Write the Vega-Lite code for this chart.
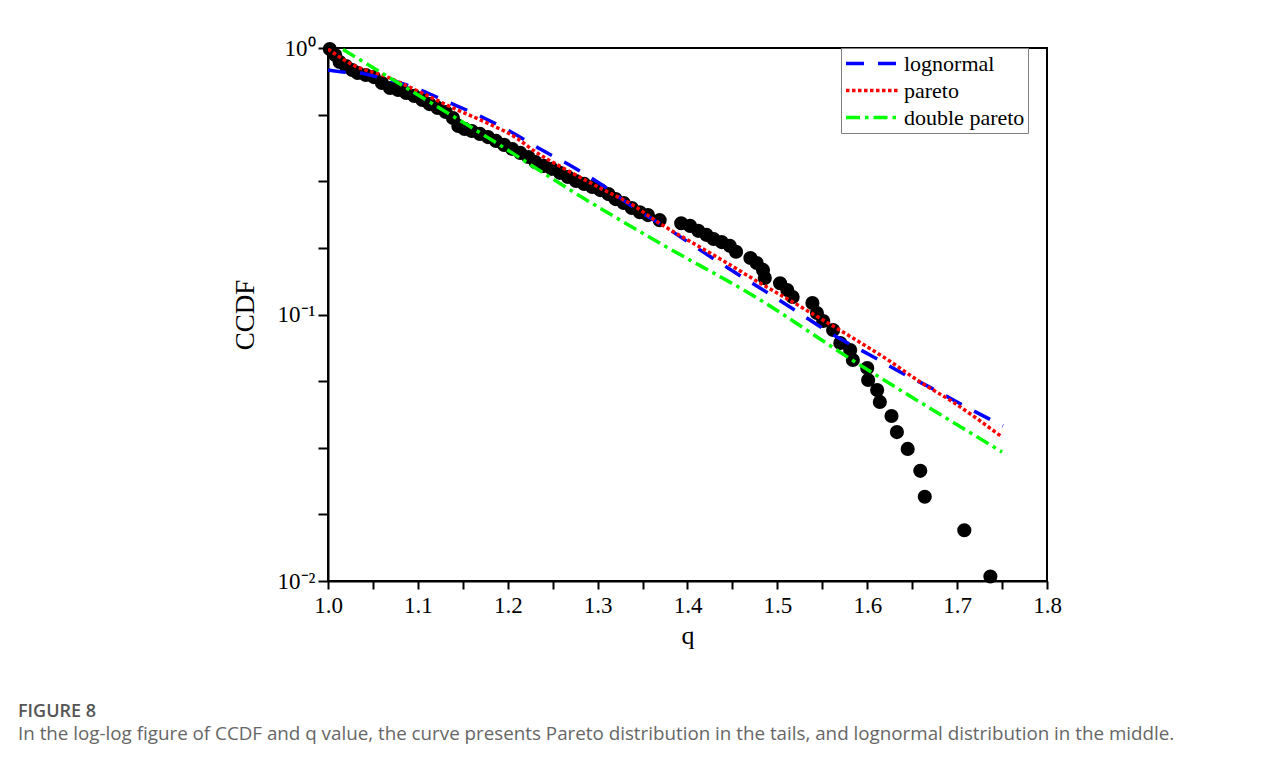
{
  "$schema": "https://vega.github.io/schema/vega-lite/v6.json",
  "width": 719,
  "height": 533,
  "autosize": {"type": "none"},
  "padding": {"left": 328, "top": 48, "right": 240, "bottom": 177},
  "background": "white",
  "config": {
    "view": {"stroke": "black", "strokeWidth": 2},
    "font": "Liberation Serif"
  },
  "title": {
    "text": "FIGURE 8",
    "subtitle": "In the log-log figure of CCDF and q value, the curve presents Pareto distribution in the tails, and lognormal distribution in the middle.",
    "orient": "bottom",
    "anchor": "start",
    "frame": "group",
    "dx": -310,
    "offset": 55,
    "font": "Open Sans",
    "fontSize": 18,
    "fontWeight": 600,
    "color": "#555555",
    "subtitleFont": "Open Sans",
    "subtitleFontSize": 18.8,
    "subtitleColor": "#666666",
    "subtitlePadding": 4
  },
  "datasets": {
    "points": [
      {"q": 1.002, "ccdf": 0.991}, {"q": 1.008, "ccdf": 0.941}, {"q": 1.013, "ccdf": 0.886},
      {"q": 1.020, "ccdf": 0.856}, {"q": 1.027, "ccdf": 0.827}, {"q": 1.033, "ccdf": 0.806},
      {"q": 1.042, "ccdf": 0.792}, {"q": 1.051, "ccdf": 0.778}, {"q": 1.060, "ccdf": 0.739},
      {"q": 1.069, "ccdf": 0.708}, {"q": 1.078, "ccdf": 0.696}, {"q": 1.087, "ccdf": 0.678},
      {"q": 1.096, "ccdf": 0.661}, {"q": 1.105, "ccdf": 0.638}, {"q": 1.113, "ccdf": 0.616},
      {"q": 1.122, "ccdf": 0.596}, {"q": 1.131, "ccdf": 0.575}, {"q": 1.139, "ccdf": 0.546},
      {"q": 1.145, "ccdf": 0.510}, {"q": 1.152, "ccdf": 0.497}, {"q": 1.160, "ccdf": 0.488},
      {"q": 1.169, "ccdf": 0.476}, {"q": 1.178, "ccdf": 0.463}, {"q": 1.187, "ccdf": 0.448},
      {"q": 1.196, "ccdf": 0.433}, {"q": 1.205, "ccdf": 0.418}, {"q": 1.214, "ccdf": 0.404},
      {"q": 1.223, "ccdf": 0.390}, {"q": 1.231, "ccdf": 0.373}, {"q": 1.240, "ccdf": 0.361},
      {"q": 1.249, "ccdf": 0.352}, {"q": 1.258, "ccdf": 0.340}, {"q": 1.267, "ccdf": 0.328},
      {"q": 1.276, "ccdf": 0.317}, {"q": 1.285, "ccdf": 0.309}, {"q": 1.294, "ccdf": 0.301},
      {"q": 1.303, "ccdf": 0.293}, {"q": 1.312, "ccdf": 0.283}, {"q": 1.320, "ccdf": 0.271},
      {"q": 1.329, "ccdf": 0.262}, {"q": 1.338, "ccdf": 0.251}, {"q": 1.347, "ccdf": 0.242},
      {"q": 1.356, "ccdf": 0.236}, {"q": 1.369, "ccdf": 0.226}, {"q": 1.393, "ccdf": 0.220},
      {"q": 1.403, "ccdf": 0.215}, {"q": 1.412, "ccdf": 0.206}, {"q": 1.421, "ccdf": 0.199},
      {"q": 1.429, "ccdf": 0.192}, {"q": 1.438, "ccdf": 0.187}, {"q": 1.447, "ccdf": 0.181},
      {"q": 1.454, "ccdf": 0.172}, {"q": 1.470, "ccdf": 0.163}, {"q": 1.477, "ccdf": 0.156},
      {"q": 1.484, "ccdf": 0.147}, {"q": 1.486, "ccdf": 0.137}, {"q": 1.503, "ccdf": 0.131},
      {"q": 1.511, "ccdf": 0.1236}, {"q": 1.517, "ccdf": 0.1163}, {"q": 1.539, "ccdf": 0.1104},
      {"q": 1.544, "ccdf": 0.1013}, {"q": 1.551, "ccdf": 0.0945}, {"q": 1.562, "ccdf": 0.0875},
      {"q": 1.570, "ccdf": 0.0782}, {"q": 1.581, "ccdf": 0.0736}, {"q": 1.584, "ccdf": 0.0675},
      {"q": 1.600, "ccdf": 0.0630}, {"q": 1.601, "ccdf": 0.0568}, {"q": 1.611, "ccdf": 0.0521},
      {"q": 1.614, "ccdf": 0.0470}, {"q": 1.627, "ccdf": 0.0416}, {"q": 1.633, "ccdf": 0.0362},
      {"q": 1.645, "ccdf": 0.0313}, {"q": 1.659, "ccdf": 0.0259}, {"q": 1.664, "ccdf": 0.0207},
      {"q": 1.708, "ccdf": 0.0155}, {"q": 1.737, "ccdf": 0.0104}
    ],
    "fits": [
      {"model": "lognormal", "q": 1.000, "ccdf": 0.827}, {"model": "lognormal", "q": 1.0167, "ccdf": 0.813},
      {"model": "lognormal", "q": 1.0356, "ccdf": 0.806}, {"model": "lognormal", "q": 1.0556, "ccdf": 0.778},
      {"model": "lognormal", "q": 1.0768, "ccdf": 0.746}, {"model": "lognormal", "q": 1.0968, "ccdf": 0.708},
      {"model": "lognormal", "q": 1.1335, "ccdf": 0.627}, {"model": "lognormal", "q": 1.1713, "ccdf": 0.551},
      {"model": "lognormal", "q": 1.2058, "ccdf": 0.480}, {"model": "lognormal", "q": 1.2381, "ccdf": 0.414},
      {"model": "lognormal", "q": 1.2726, "ccdf": 0.358}, {"model": "lognormal", "q": 1.3082, "ccdf": 0.301},
      {"model": "lognormal", "q": 1.3393, "ccdf": 0.253}, {"model": "lognormal", "q": 1.3772, "ccdf": 0.211},
      {"model": "lognormal", "q": 1.4106, "ccdf": 0.1777}, {"model": "lognormal", "q": 1.4451, "ccdf": 0.1494},
      {"model": "lognormal", "q": 1.4807, "ccdf": 0.1257}, {"model": "lognormal", "q": 1.514, "ccdf": 0.1067},
      {"model": "lognormal", "q": 1.5663, "ccdf": 0.0823}, {"model": "lognormal", "q": 1.603, "ccdf": 0.0705},
      {"model": "lognormal", "q": 1.6387, "ccdf": 0.0603}, {"model": "lognormal", "q": 1.6754, "ccdf": 0.0521},
      {"model": "lognormal", "q": 1.7121, "ccdf": 0.0446}, {"model": "lognormal", "q": 1.751, "ccdf": 0.0382},
      {"model": "pareto", "q": 1.000, "ccdf": 0.991}, {"model": "pareto", "q": 1.028, "ccdf": 0.863},
      {"model": "pareto", "q": 1.066, "ccdf": 0.778}, {"model": "pareto", "q": 1.102, "ccdf": 0.684},
      {"model": "pareto", "q": 1.139, "ccdf": 0.596}, {"model": "pareto", "q": 1.177, "ccdf": 0.523},
      {"model": "pareto", "q": 1.210, "ccdf": 0.459}, {"model": "pareto", "q": 1.228, "ccdf": 0.414},
      {"model": "pareto", "q": 1.266, "ccdf": 0.348}, {"model": "pareto", "q": 1.303, "ccdf": 0.298},
      {"model": "pareto", "q": 1.339, "ccdf": 0.2575}, {"model": "pareto", "q": 1.369, "ccdf": 0.220},
      {"model": "pareto", "q": 1.406, "ccdf": 0.1855}, {"model": "pareto", "q": 1.444, "ccdf": 0.156},
      {"model": "pareto", "q": 1.481, "ccdf": 0.131}, {"model": "pareto", "q": 1.517, "ccdf": 0.1114},
      {"model": "pareto", "q": 1.547, "ccdf": 0.0970}, {"model": "pareto", "q": 1.584, "ccdf": 0.0816},
      {"model": "pareto", "q": 1.622, "ccdf": 0.0679}, {"model": "pareto", "q": 1.659, "ccdf": 0.0558},
      {"model": "pareto", "q": 1.695, "ccdf": 0.0470}, {"model": "pareto", "q": 1.750, "ccdf": 0.0347},
      {"model": "double pareto", "q": 1.0167, "ccdf": 0.987}, {"model": "double pareto", "q": 1.091, "ccdf": 0.696},
      {"model": "double pareto", "q": 1.177, "ccdf": 0.463}, {"model": "double pareto", "q": 1.284, "ccdf": 0.2736},
      {"model": "double pareto", "q": 1.369, "ccdf": 0.1855}, {"model": "double pareto", "q": 1.481, "ccdf": 0.1134},
      {"model": "double pareto", "q": 1.584, "ccdf": 0.0672}, {"model": "double pareto", "q": 1.695, "ccdf": 0.0395},
      {"model": "double pareto", "q": 1.750, "ccdf": 0.0305}
    ]
  },
  "layer": [
    {
      "data": {"name": "points"},
      "mark": {"type": "circle", "size": 200, "color": "black", "opacity": 1},
      "encoding": {
        "x": {
          "field": "q", "type": "quantitative",
          "scale": {"domain": [1, 1.8], "nice": false, "zero": false},
          "axis": {
            "values": [1, 1.05, 1.1, 1.15, 1.2, 1.25, 1.3, 1.35, 1.4, 1.45, 1.5, 1.55, 1.6, 1.65, 1.7, 1.75, 1.8],
            "labelExpr": "abs(datum.value*10 - round(datum.value*10)) < 0.01 ? format(datum.value, '.1f') : ''",
            "grid": false,
            "domainColor": "black", "domainWidth": 2,
            "tickColor": "black", "tickWidth": 2, "tickSize": 8,
            "labelFont": "Liberation Serif", "labelFontSize": 23, "labelColor": "black", "labelPadding": 5,
            "labelFlush": false, "labelOverlap": false,
            "title": "q", "titleFont": "Liberation Serif", "titleFontSize": 26, "titleFontWeight": "normal",
            "titleColor": "black", "titlePadding": 5
          }
        },
        "y": {
          "field": "ccdf", "type": "quantitative",
          "scale": {"type": "log", "domain": [0.01, 1], "nice": false},
          "axis": {
            "values": [1, 0.5623, 0.3162, 0.1778, 0.1, 0.05623, 0.03162, 0.01778, 0.01],
            "labelExpr": "datum.value == 1 ? '10⁰' : (datum.value == 0.1 ? '10⁻¹' : (datum.value == 0.01 ? '10⁻²' : ''))",
            "grid": false,
            "domainColor": "black", "domainWidth": 2,
            "tickColor": "black", "tickWidth": 2, "tickSize": 10,
            "labelFont": "Liberation Serif", "labelFontSize": 23, "labelColor": "black", "labelPadding": 3,
            "labelFlush": false, "labelOverlap": false,
            "title": "CCDF", "titleFont": "Liberation Serif", "titleFontSize": 27, "titleFontWeight": "normal",
            "titleColor": "black", "titlePadding": 18
          }
        }
      }
    },
    {
      "data": {"name": "fits"},
      "mark": {"type": "line", "strokeWidth": 3.5, "interpolate": "monotone", "clip": true},
      "encoding": {
        "x": {"field": "q", "type": "quantitative"},
        "y": {"field": "ccdf", "type": "quantitative"},
        "color": {
          "field": "model", "type": "nominal",
          "scale": {"domain": ["lognormal", "pareto", "double pareto"], "range": ["#0000ff", "#ff0000", "#00ff00"]},
          "legend": {
            "title": null, "orient": "none", "legendX": 513, "legendY": 0,
            "symbolType": "stroke", "symbolSize": 2704, "symbolStrokeWidth": 3.5,
            "clipHeight": 25,
            "labelFont": "Liberation Serif", "labelFontSize": 22, "labelColor": "black", "labelOffset": 4,
            "strokeColor": "#808080", "padding": 3, "rowPadding": 2, "fillColor": "white"
          }
        },
        "strokeDash": {
          "field": "model", "type": "nominal",
          "scale": {"domain": ["lognormal", "pareto", "double pareto"], "range": [[18, 14], [3.5, 2.5], [14, 5, 3.5, 5]]},
          "legend": null
        }
      }
    }
  ]
}
